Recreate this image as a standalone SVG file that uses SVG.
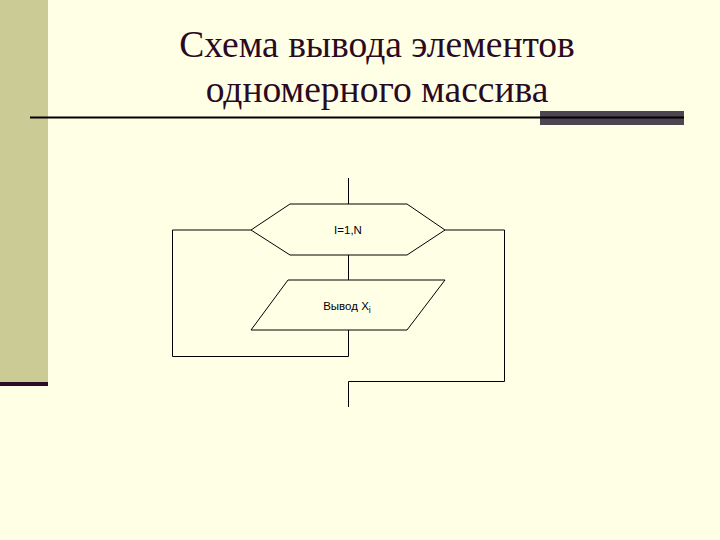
<svg xmlns="http://www.w3.org/2000/svg" width="720" height="540" viewBox="0 0 720 540">
<style>
.ln{fill:none;stroke:#000;stroke-width:1}
.sh{fill:#FFFFE5;stroke:#000;stroke-width:1}
.lbl{font-family:"Liberation Sans",Arial,sans-serif;font-size:11.5px;fill:#000}
.ttl{font-family:"Liberation Serif","Times New Roman",serif;font-size:37.5px;fill:#2A0A22}
</style>
<rect width="720" height="540" fill="#FFFFE5"/>
<rect x="0" y="0" width="48" height="382" fill="#CBCB96"/>
<rect x="0" y="382" width="48" height="4" fill="#2E0A2A"/>
<rect x="540" y="111" width="144" height="14" fill="#4D4550"/>
<line x1="30" y1="117.5" x2="684" y2="117.5" stroke="#000" stroke-width="2"/>
<text class="ttl" x="377" y="57" text-anchor="middle">Схема вывода элементов</text>
<text class="ttl" x="377" y="102" text-anchor="middle">одномерного массива</text>
<g id="connectors">
<line class="ln" x1="348.5" y1="178" x2="348.5" y2="204"/>
<line class="ln" x1="348.5" y1="255" x2="348.5" y2="280"/>
<polyline class="ln" points="251,230 172.5,230 172.5,356.5 348.5,356.5 348.5,330"/>
<polyline class="ln" points="445,230 504.5,230 504.5,381.5 348.5,381.5 348.5,407"/>
</g>
<g id="loop">
<polygon class="sh" points="290,204 407,204 445,230 407,255 290,255 251,230"/>
<text class="lbl" x="348" y="234" text-anchor="middle">I=1,N</text>
</g>
<g id="output">
<polygon class="sh" points="288,280 445,280 407,330 251,330"/>
<text class="lbl" x="347" y="310" text-anchor="middle">Вывод X<tspan font-size="9" dy="3">i</tspan></text>
</g>
</svg>
